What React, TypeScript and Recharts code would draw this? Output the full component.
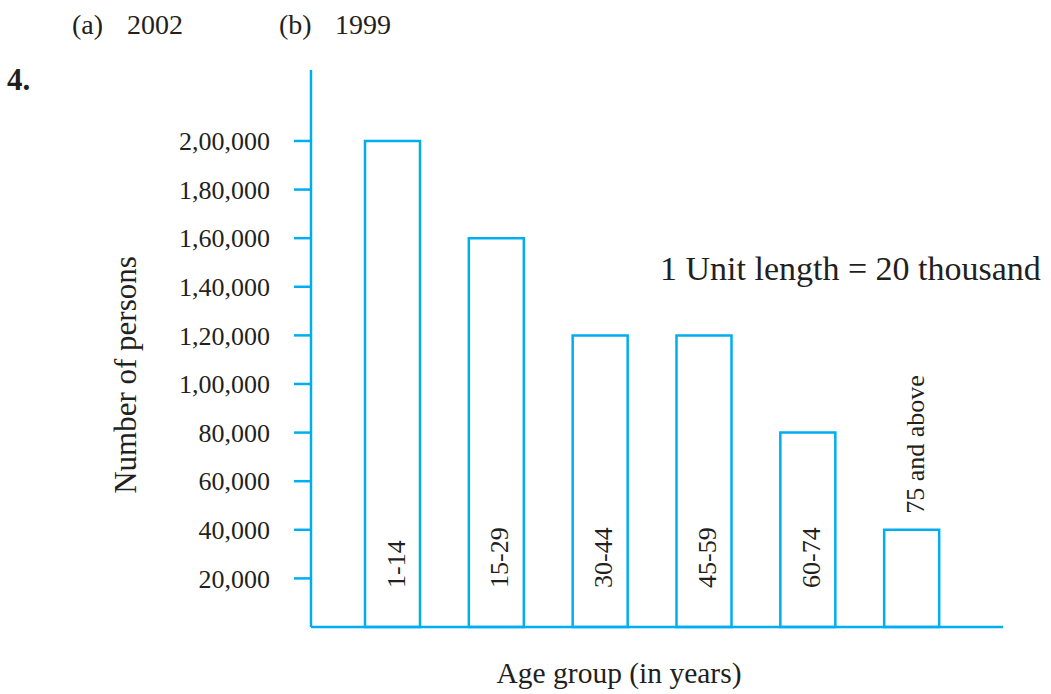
import { BarChart, Bar, XAxis, YAxis, LabelList, Label } from 'recharts';

const ageGroups = ['1-14', '15-29', '30-44', '45-59', '60-74', '75 and above'];
const persons = [200000, 160000, 120000, 120000, 80000, 40000];
const yTicks = [20000, 40000, 60000, 80000, 100000, 120000, 140000, 160000, 180000, 200000];

const CYAN = '#00AEEF';
const INK = '#231f20';
const SERIF = '"Liberation Serif", "Times New Roman", serif';

// Indian digit grouping: 2,00,000
const indian = (v: number) => {
    const s = String(v);
    if (s.length <= 3) return s;
    const last3 = s.slice(-3);
    const rest = s.slice(0, -3).replace(/\B(?=(\d{2})+(?!\d))/g, ',');
    return `${rest},${last3}`;
};

const data = ageGroups.map((g, i) => ({ group: g, persons: persons[i] }));

// group name written vertically: inside the bar near the bottom, above the last (short) bar
const BarName = (props: any) => {
    const { x, y, width, height, value, index } = props;
    const cx = x + width / 2 + 12;
    const isLast = index === ageGroups.length - 1;
    const ty = isLast ? y - 16 : y + height - 39;
    return (
        <text
            x={cx}
            y={ty}
            transform={`rotate(-90, ${cx}, ${ty})`}
            textAnchor="start"
            fontSize={26}
            fontFamily={SERIF}
            fill={INK}
        >
            {value}
        </text>
    );
};

const top = (left: number, text: string) => (
    <div style={{ position: 'absolute', left, top: 7, fontSize: 28, lineHeight: '36px' }}>{text}</div>
);

export default function App() {
    return (
        <div style={{ position: 'absolute', left: 0, top: 0, width: 1051, height: 694, background: '#fff', fontFamily: SERIF, color: INK }}>
            {top(72, '(a)')}
            {top(127, '2002')}
            {top(279, '(b)')}
            {top(335, '1999')}
            <div style={{ position: 'absolute', left: 7, top: 60, fontSize: 31, lineHeight: '40px', fontWeight: 'bold' }}>4.</div>
            <div style={{ position: 'absolute', left: 660, top: 250, fontSize: 34, whiteSpace: 'pre' }}>1 Unit length = 20 thousand</div>

            <BarChart
                width={1051}
                height={694}
                data={data}
                margin={{ top: 70, right: 48, bottom: 37, left: 0 }}
                style={{ position: 'absolute', left: 0, top: 0 }}
            >
                <XAxis
                    dataKey="group"
                    height={30}
                    tick={false}
                    tickLine={false}
                    axisLine={{ stroke: CYAN, strokeWidth: 2.5 }}
                    padding={{ left: 30, right: 39 }}
                >
                    <Label
                        content={({ viewBox }: any) => (
                            <text
                                x={viewBox.x + 308}
                                y={viewBox.y + 56}
                                textAnchor="middle"
                                fontSize={29.5}
                                fontFamily={SERIF}
                                fill={INK}
                            >
                                Age group (in years)
                            </text>
                        )}
                    />
                </XAxis>
                <YAxis
                    width={311}
                    domain={[0, 229200]}
                    ticks={yTicks}
                    interval={0}
                    tickFormatter={indian}
                    tickSize={17}
                    tickMargin={24}
                    tick={{ fontSize: 26, fontFamily: SERIF, fill: INK }}
                    tickLine={{ stroke: CYAN, strokeWidth: 2.5 }}
                    axisLine={{ stroke: CYAN, strokeWidth: 2.5 }}
                >
                    <Label
                        content={({ viewBox }: any) => {
                            const lx = viewBox.x + 136;
                            const ly = viewBox.y + 305;
                            return (
                                <text
                                    x={lx}
                                    y={ly}
                                    transform={`rotate(-90, ${lx}, ${ly})`}
                                    textAnchor="middle"
                                    fontSize={31}
                                    fontFamily={SERIF}
                                    fill={INK}
                                >
                                    Number of persons
                                </text>
                            );
                        }}
                    />
                </YAxis>
                <Bar
                    dataKey="persons"
                    fill="#fff"
                    stroke={CYAN}
                    strokeWidth={2.5}
                    barSize={55}
                    isAnimationActive={false}
                >
                    <LabelList dataKey="group" content={BarName} />
                </Bar>
            </BarChart>
        </div>
    );
}
